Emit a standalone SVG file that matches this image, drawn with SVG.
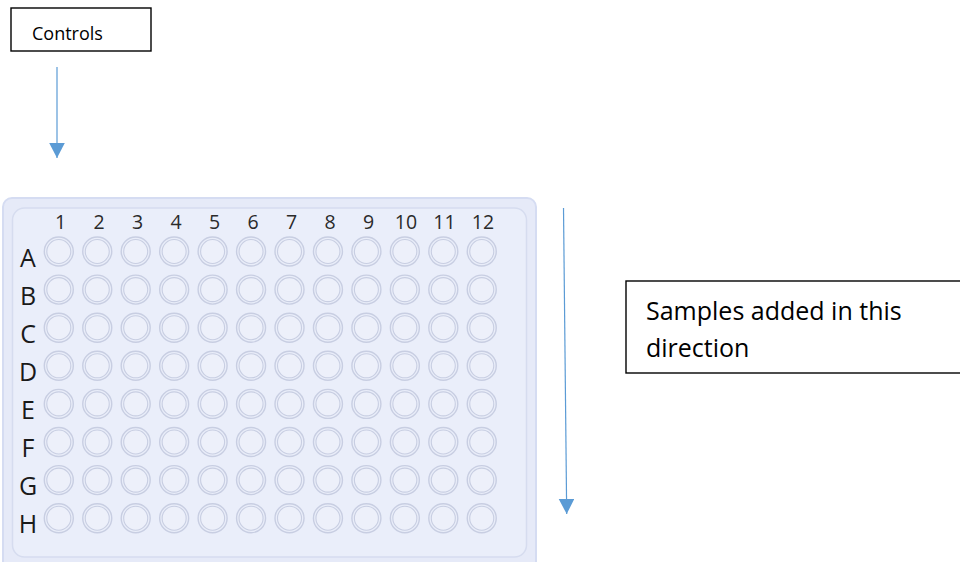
<svg xmlns="http://www.w3.org/2000/svg" xmlns:xlink="http://www.w3.org/1999/xlink" width="960" height="562" viewBox="0 0 960 562">
<style>
.box{fill:#fff;stroke:#000;stroke-width:1.4}
.lbl{font-family:"Open Sans","Noto Sans",sans-serif;fill:#000}
.col{font-family:"Open Sans","Noto Sans",sans-serif;font-size:19.5px;fill:#2a2a2a;text-anchor:middle}
.row{font-family:"Open Sans","Noto Sans",sans-serif;font-size:25px;fill:#1a1a1a;text-anchor:middle}
.conn{stroke:#5b9bd5;stroke-width:1.2;fill:none}
</style>
<defs>
<marker id="ah" markerUnits="userSpaceOnUse" markerWidth="16" markerHeight="16" viewBox="0 0 16 16" refX="15" refY="7.8" orient="auto">
<path d="M0,0 L15,7.8 L0,15.6 z" fill="#5b9bd5"/>
</marker>
<g id="well">
<circle r="14.5" fill="#e9edf9" stroke="#c8cee2" stroke-width="1.4"/>
<circle r="12" fill="#edf0fa" stroke="#c8cee2" stroke-width="1.1"/>
</g>
<g id="wrow">
<use xlink:href="#well" x="58.8"/>
<use xlink:href="#well" x="97.25"/>
<use xlink:href="#well" x="135.7"/>
<use xlink:href="#well" x="174.15"/>
<use xlink:href="#well" x="212.6"/>
<use xlink:href="#well" x="251.05"/>
<use xlink:href="#well" x="289.5"/>
<use xlink:href="#well" x="327.95"/>
<use xlink:href="#well" x="366.4"/>
<use xlink:href="#well" x="404.85"/>
<use xlink:href="#well" x="443.3"/>
<use xlink:href="#well" x="481.75"/>
</g>
</defs>
<rect width="960" height="562" fill="#fff"/>
<g id="controls">
<rect class="box" x="11" y="8" width="140" height="43"/>
<text class="lbl" x="32" y="40" font-size="18">Controls</text>
</g>
<g id="plate">
<rect x="3" y="198" width="533" height="372" rx="9" fill="#e6eaf8" stroke="#d5dcf2" stroke-width="2"/>
<rect x="12.5" y="208" width="514" height="349" rx="12" fill="#eaeefa" stroke="#d6dcef" stroke-width="1.5"/>
<g id="wells">
<use xlink:href="#wrow" y="251.5"/>
<use xlink:href="#wrow" y="289.6"/>
<use xlink:href="#wrow" y="327.7"/>
<use xlink:href="#wrow" y="365.8"/>
<use xlink:href="#wrow" y="403.9"/>
<use xlink:href="#wrow" y="442"/>
<use xlink:href="#wrow" y="480.1"/>
<use xlink:href="#wrow" y="518.2"/>
</g>
<g id="col-labels">
<text class="col" x="60.5" y="228.5">1</text>
<text class="col" x="99" y="228.5">2</text>
<text class="col" x="137.5" y="228.5">3</text>
<text class="col" x="176" y="228.5">4</text>
<text class="col" x="214.5" y="228.5">5</text>
<text class="col" x="253" y="228.5">6</text>
<text class="col" x="291.5" y="228.5">7</text>
<text class="col" x="330" y="228.5">8</text>
<text class="col" x="368.5" y="228.5">9</text>
<text class="col" x="406" y="228.5">10</text>
<text class="col" x="444.5" y="228.5">11</text>
<text class="col" x="483" y="228.5">12</text>
</g>
<g id="row-labels">
<text class="row" x="28" y="267">A</text>
<text class="row" x="28" y="305">B</text>
<text class="row" x="28" y="343">C</text>
<text class="row" x="28" y="381">D</text>
<text class="row" x="28" y="419">E</text>
<text class="row" x="28" y="457">F</text>
<text class="row" x="28" y="495">G</text>
<text class="row" x="28" y="533">H</text>
</g>
</g>
<g id="samples">
<rect class="box" x="626" y="281" width="340" height="92"/>
<text class="lbl" x="646" y="320" font-size="25">Samples added in this</text>
<text class="lbl" x="646" y="357" font-size="25">direction</text>
</g>
<g id="connectors">
<line class="conn" x1="57" y1="67" x2="57" y2="158" marker-end="url(#ah)"/>
<line class="conn" x1="563.5" y1="208" x2="566.7" y2="514" marker-end="url(#ah)"/>
</g>
</svg>
